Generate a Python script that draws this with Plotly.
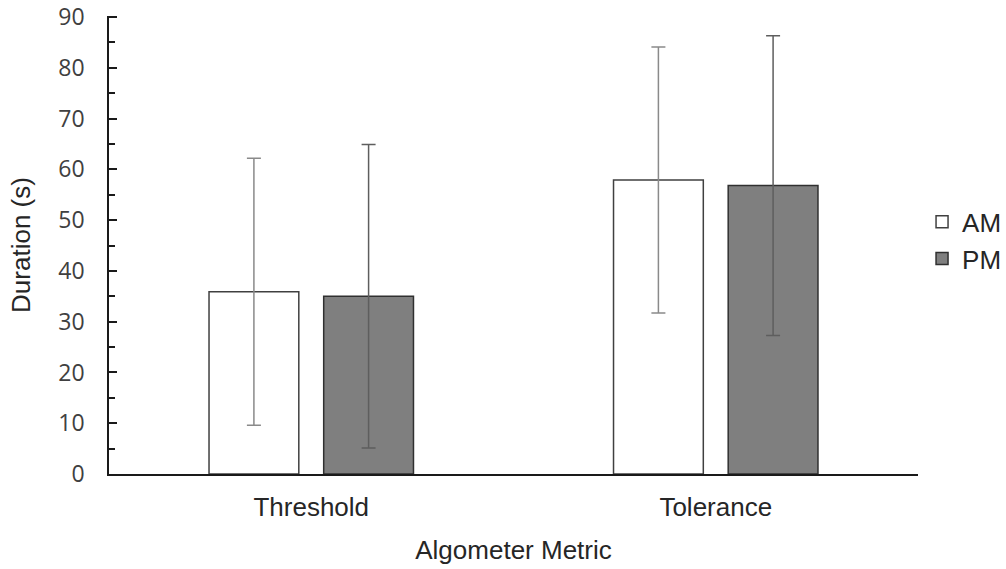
import plotly.graph_objects as go

# Algometer metric durations, mean ± SD (seconds)
categories = ["Threshold", "Tolerance"]
am_mean = [35.9, 57.9]
am_sd = [26.3, 26.2]
pm_mean = [35.0, 56.8]
pm_sd = [29.9, 29.5]
y_ticks = [0, 10, 20, 30, 40, 50, 60, 70, 80, 90]

label_font = "Liberation Sans, Arial, sans-serif"
tick_font = "Open Sans, Noto Sans, sans-serif"

fig = go.Figure()
fig.add_trace(go.Bar(
    name="AM", x=categories, y=am_mean,
    marker=dict(color="#ffffff", line=dict(color="#404040", width=1.5)),
    error_y=dict(type="data", array=am_sd, visible=True,
                 color="#8a8a8a", thickness=1.5, width=7),
))
fig.add_trace(go.Bar(
    name="PM", x=categories, y=pm_mean,
    marker=dict(color="#7f7f7f", line=dict(color="#303030", width=1.5)),
    error_y=dict(type="data", array=pm_sd, visible=True,
                 color="#5e5e5e", thickness=1.5, width=7),
))

fig.update_layout(
    width=1006, height=569,
    margin=dict(l=109, r=88, t=16, b=95, autoexpand=False),
    paper_bgcolor="white", plot_bgcolor="white",
    barmode="group", bargap=0.433, bargroupgap=0.217,
    showlegend=True,
    legend=dict(x=1.005, xanchor="left", y=0.51, yanchor="middle",
                font=dict(family=label_font, size=26, color="#262626"),
                itemwidth=30, tracegroupgap=4, bgcolor="rgba(0,0,0,0)"),
    font=dict(family=label_font, color="#262626"),
)

fig.update_xaxes(
    showline=True, linecolor="#1a1a1a", linewidth=2,
    ticks="", showgrid=False, zeroline=False,
    tickfont=dict(family=label_font, size=26, color="#262626"),
    ticklabelstandoff=9,
    title=dict(text="Algometer Metric",
               font=dict(family=label_font, size=26, color="#262626"),
               standoff=20),
)
fig.update_yaxes(
    range=[0, 90.2], tickvals=y_ticks,
    showline=True, linecolor="#1a1a1a", linewidth=1.5,
    ticks="inside", ticklen=8, tickwidth=1.5, tickcolor="#1a1a1a",
    minor=dict(dtick=5, tick0=0, ticks="inside", ticklen=6, tickwidth=1.5,
               tickcolor="#1a1a1a"),
    showgrid=False, zeroline=False,
    tickfont=dict(family=tick_font, size=23, color="#404040"),
    ticklabeloverflow="allow",
    ticklabelstandoff=18,
    title=dict(text="Duration (s)",
               font=dict(family=label_font, size=26, color="#262626"),
               standoff=20),
)

fig.write_html("out.html")
